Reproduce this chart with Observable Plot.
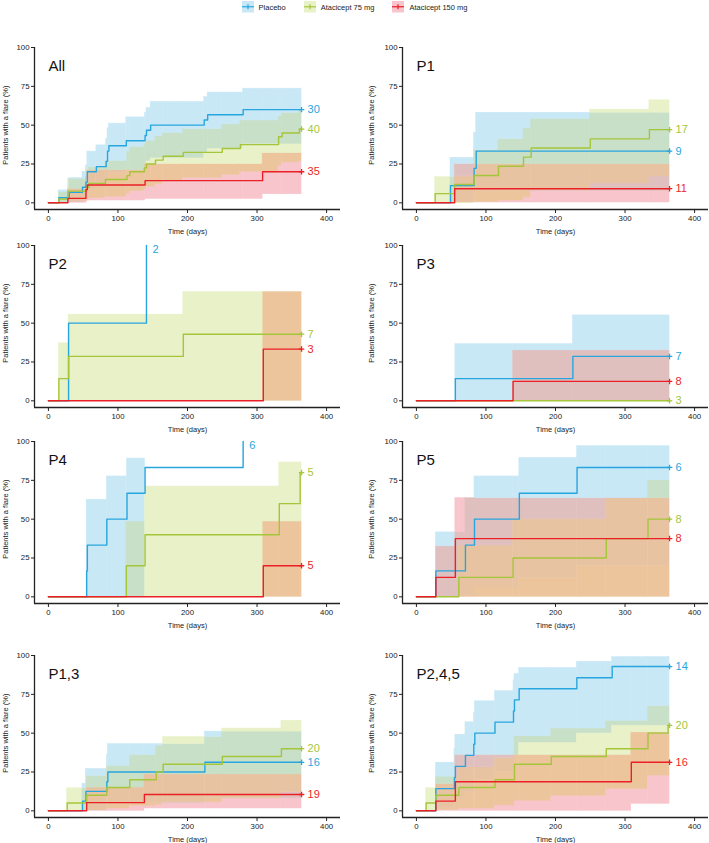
<!DOCTYPE html>
<html><head><meta charset="utf-8">
<script src="https://cdn.jsdelivr.net/npm/d3@7"></script>
<script src="https://cdn.jsdelivr.net/npm/@observablehq/plot@0.6"></script>
<style>
html,body{margin:0;padding:0;background:#fff;overflow:hidden;width:709px;height:843px;}
#page{position:relative;width:709px;height:843px;font-family:"Liberation Sans",Arial,sans-serif;}
.panel{position:absolute;}
#legend{position:absolute;top:1px;left:0;width:709px;display:flex;justify-content:center;gap:18px;font-size:7.5px;color:#222;}
.item{display:flex;align-items:center;gap:5px;height:12px;}
.item svg{display:block;}
</style></head>
<body><div id="page"><div id="legend"></div></div>
<script>
// ---- series / labels ----
const seriesNames = ["Placebo", "Atacicept 75 mg", "Atacicept 150 mg"];
const panelNames = ["All", "P1", "P2", "P3", "P4", "P5", "P1,3", "P2,4,5"];
const panelN = [[30,40,35],[9,17,11],[2,7,3],[7,3,8],[6,5,5],[6,8,8],[16,20,19],[14,20,16]];
const xTicks = [0, 100, 200, 300, 400];
const yTicks = [0, 25, 50, 75, 100];
const xTitle = "Time (days)";
const yTitle = "Patients with a flare (%)";

// rows: [time (days), estimate %, lower CI %, upper CI %]
const allPlacebo = [[0,0,null,null],[15,3.3,0,8],[30,6.7,0.5,16],[49,10,2,20],[54,13.3,3.5,24],[56,20,8,33],[69,23.3,10,37],[83,26.7,12,41],[85,33.3,16,48],[87,36.7,19,51],[112,40,21,55],[139,43.3,24,58],[141,46.7,27,61],[147,50,29,65],[224,53.3,32,68],[229,56.7,35,71],[280,60,38,73.5],[364,60,38,73.5]];
const allAta75 = [[0,0,null,null],[15,2.5,0,7],[28,7.5,1,15.5],[55,10,2,21],[58,12.5,3,23],[82,15,4,27],[113,17.5,6,33],[117,20,7.5,36],[138,22.5,9,38],[141,25,10.5,40],[154,27.5,12,43],[165,30,14,45],[194,32.5,16,47.5],[250,35,18,50.5],[276,37.5,20,53],[331,42.5,24,56],[336,45,26,58],[361,47.5,27,60],[364,47.5,27,60]];
const allAta150 = [[0,0,null,null],[28,2.86,0,9],[54,8.57,0.7,17],[56,11.43,1.5,21],[139,14.29,2.5,25],[308,20,5.5,32],[364,20,5.5,32]];

const p1Placebo = [[0,0,null,null],[49,11.1,0.3,29],[83,22.2,3,45],[86,33.3,7.5,58],[364,33.3,7.5,58]];
const p1Ata75 = [[0,0,null,null],[27,5.9,0,16.5],[55,11.8,0,17],[83,17.6,0.5,34],[118,23.5,1.5,41],[154,29.4,3.5,48],[165,35.3,8,54],[250,41.2,12.5,60],[335,47.1,17,66],[364,47.1,17,66]];
const p1Ata150 = [[0,0,null,null],[55,9.1,0.2,25],[364,9.1,0.2,25]];

const p2Placebo = [[0,0,null,null],[29,50,null,null],[141,100,null,null]];
const p2Ata75 = [[0,0,null,null],[15,14.3,0,37],[29,28.6,0,55.5],[194,42.9,0,70],[364,42.9,0,70]];
const p2Ata150 = [[0,0,null,null],[309,33.3,0,70],[364,33.3,0,70]];

const p3Placebo = [[0,0,null,null],[56,14.3,0,36.5],[225,28.6,0,55],[364,28.6,0,55]];
const p3Ata75 = [[0,0,null,null],[364,0,null,null]];
const p3Ata150 = [[0,0,null,null],[139,12.5,0,32.5],[364,12.5,0,32.5]];

const p4Placebo = [[0,0,null,null],[55,16.7,0,62.5],[56,33.3,0,62.5],[84,50,0,77.5],[113,66.7,0,89],[139,83.3,null,null],[280,100,null,null]];
const p4Ata75 = [[0,0,null,null],[112,20,0,48.5],[139,40,0,71],[332,60,0,86.5],[362,80,0,86.5],[364,80,0,86.5]];
const p4Ata150 = [[0,0,null,null],[309,20,0,48.5],[364,20,0,48.5]];

const p5Placebo = [[0,0,null,null],[28,16.7,0,41.5],[70.5,33.3,1,63.5],[83.5,50,6,77.5],[148,66.7,12,89.5],[231,83.3,20,97],[364,83.3,20,97]];
const p5Ata75 = [[0,0,null,null],[61,12.5,0,33],[139,25,0,50],[273,37.5,0,63.4],[333,50,0,75],[364,50,0,75]];
const p5Ata150 = [[0,0,null,null],[28,12.5,0,32.5],[56,37.5,0,63.5],[364,37.5,0,63.5]];

const p13Placebo = [[0,0,null,null],[49,6.25,0,17.5],[54,12.5,0.5,27],[84,18.75,2,36],[85.5,25,5,43],[225,31.25,8,51],[364,31.25,8,51]];
const p13Ata75 = [[0,0,null,null],[27,5,0,14.5],[55,10,0.3,22.5],[84,15,1.5,29],[117,20,3,36],[155,25,4,42],[165,30,5.5,47.5],[250,35,8,53],[335,40,12,58],[364,40,12,58]];
const p13Ata150 = [[0,0,null,null],[55,5.26,0,15],[138,10.5,1.5,23.5],[364,10.5,1.5,23.5]];

const p245Placebo = [[0,0,null,null],[28,14.3,2,31],[54.7,21.4,4,40],[56,28.6,8,49],[70.5,35.7,12,57],[82.5,42.9,16,63],[84,50,20,70.5],[113,57.1,25,77],[139.6,64.3,30,84],[141,71.4,36,88],[147.7,78.6,44,92],[230.7,85.7,50,96],[281.5,92.9,55,99],[364,92.9,55,99]];
const p245Ata75 = [[0,0,null,null],[14,5,0,14.5],[28,10,0.5,22],[61,15,1.5,28],[113,20,3.5,34],[141,30,6.5,48],[194,35,9.7,53],[273,40,14,58],[333,50,22.7,67.5],[362,55,22.7,67.5],[364,55,22.7,67.5]];
const p245Ata150 = [[0,0,null,null],[28,6.25,0,17.3],[56,18.75,0,36],[309,31.25,4.5,50.5],[364,31.25,4.5,50.5]];

const panelData = [
  [allPlacebo, allAta75, allAta150],
  [p1Placebo, p1Ata75, p1Ata150],
  [p2Placebo, p2Ata75, p2Ata150],
  [p3Placebo, p3Ata75, p3Ata150],
  [p4Placebo, p4Ata75, p4Ata150],
  [p5Placebo, p5Ata75, p5Ata150],
  [p13Placebo, p13Ata75, p13Ata150],
  [p245Placebo, p245Ata75, p245Ata150]
];

// ---- styles ----
const lineColors = ["#27a5df", "#a5c53a", "#ec1f27"];
const bandColor = {B:"#c9e8f6", G:"#e8f1c8", R:"#f7c5cb", BG:"#c8dfc8", BR:"#e0c0bf", GR:"#ecc59d", BGR:"#e7c3a2"};
const singleBand = [bandColor.B, bandColor.G, bandColor.R];
const rowTops = [36.7, 235, 431, 645];

// legend
const legend = document.getElementById("legend");
seriesNames.forEach((nm, s) => {
  const it = document.createElement("div");
  it.className = "item";
  it.innerHTML = `<svg width="12" height="11.5"><rect width="12" height="11.5" fill="${singleBand[s]}"/><line x1="0" x2="12" y1="5.75" y2="5.75" stroke="${lineColors[s]}" stroke-width="1.2"/><line x1="6" x2="6" y1="3.3" y2="8.2" stroke="${lineColors[s]}" stroke-width="1.2"/></svg><span>${nm}</span>`;
  legend.appendChild(it);
});

function bandAt(rows, t) {
  for (let i = 0; i < rows.length - 1; i++) {
    if (t >= rows[i][0] && t < rows[i + 1][0]) {
      return rows[i][2] == null ? null : [rows[i][2], rows[i][3]];
    }
  }
  return null;
}
function overlapRects(seriesRows) {
  const ts = [...new Set(seriesRows.flatMap(r => r.map(d => d[0])))].sort((a, b) => a - b);
  const out = [];
  for (let k = 0; k < ts.length - 1; k++) {
    const a = ts[k], b = ts[k + 1];
    const iv = seriesRows.map(r => bandAt(r, a));
    const ys = [...new Set(iv.filter(Boolean).flat())].sort((p, q) => p - q);
    for (let j = 0; j < ys.length - 1; j++) {
      const m = (ys[j] + ys[j + 1]) / 2;
      const key = iv.map((v, s) => (v && m >= v[0] && m <= v[1]) ? "BGR"[s] : "").join("");
      if (key) out.push({x1: a, x2: b, y1: ys[j], y2: ys[j + 1], fill: bandColor[key]});
    }
  }
  return out;
}

const page = document.getElementById("page");
panelNames.forEach((name, i) => {
  const col = i % 2, row = Math.floor(i / 2);
  const series = panelData[i];
  const rects = overlapRects(series);
  const ends = series.map((rows, s) => ({t: rows[rows.length - 1][0], v: rows[rows.length - 1][1], s, n: String(panelN[i][s])}));
  const marks = [
    Plot.rect(rects, {x1: "x1", x2: "x2", y1: "y1", y2: "y2", fill: "fill", stroke: "fill", strokeWidth: 0.5})
  ];
  series.forEach((rows, s) => {
    marks.push(Plot.line(rows, {x: d => d[0], y: d => d[1], curve: "step-after", stroke: lineColors[s], strokeWidth: 1.4}));
  });
  marks.push(
    Plot.dot(ends.filter(e => e.t >= 360), {x: "t", y: "v", symbol: "plus", r: 1.9, fill: "none", stroke: e => lineColors[e.s], strokeWidth: 1.3}),
    Plot.text(ends.filter(e => e.v < 99), {x: "t", y: "v", text: "n", fill: e => lineColors[e.s], dx: 6, textAnchor: "start", fontSize: 11}),
    Plot.text(ends.filter(e => e.v >= 99), {x: "t", y: "v", text: "n", fill: e => lineColors[e.s], dx: 6, textAnchor: "start", lineAnchor: "top", fontSize: 11}),
    Plot.ruleY([-4.3], {stroke: "#222", strokeWidth: 1.3}),
    Plot.ruleX([-20], {y1: -4.3, y2: 100, stroke: "#222", strokeWidth: 1.3}),
    Plot.axisX({ticks: xTicks, tickSize: 4, tickPadding: 2, label: null, fontSize: 7.8}),
    Plot.axisY({ticks: yTicks, tickSize: 3, tickPadding: 2, label: null, fontSize: 7.8}),
    Plot.text([name], {x: 0, y: 88, text: d => d, textAnchor: "start", fontSize: 15, fill: "#111"}),
    Plot.text([xTitle], {x: 200, y: -4.3, dy: 22, text: d => d, fontSize: 7.5, fill: "#222"}),
    Plot.text([yTitle], {x: -20, y: 50, dx: col ? -31 : -29, rotate: -90, text: d => d, fontSize: 7.5, fill: "#222"})
  );
  const chart = Plot.plot({
    width: 354, height: 202,
    marginTop: 10, marginBottom: 30,
    marginLeft: col ? 48 : 34, marginRight: col ? 0 : 14,
    x: {domain: [-20, 420]},
    y: {domain: [-4.3, 100]},
    color: {type: "identity"},
    style: {fontFamily: "'Liberation Sans', Arial, sans-serif", fontSize: "7.8px", color: "#222", background: "none", overflow: "visible"},
    marks
  });
  const div = document.createElement("div");
  div.className = "panel";
  div.style.left = (col * 354) + "px";
  div.style.top = rowTops[row] + "px";
  div.appendChild(chart);
  page.appendChild(div);
});
</script></body></html>
